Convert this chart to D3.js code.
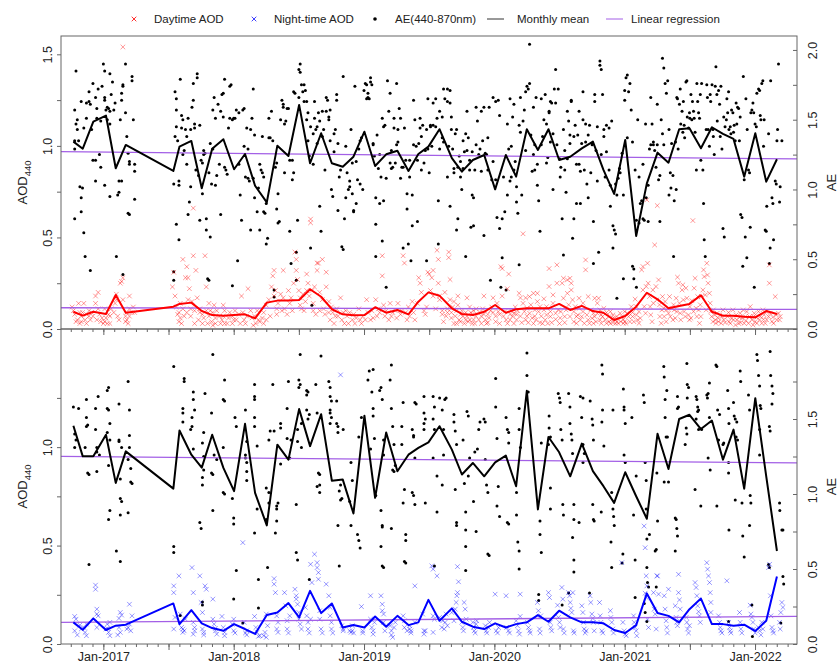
<!DOCTYPE html>
<html>
<head>
<meta charset="utf-8">
<script src="https://cdn.jsdelivr.net/npm/d3@7"></script>
<style>
  body { margin: 0; background: #fff; }
  text { font-family: "Liberation Sans", Arial, sans-serif; }
</style>
</head>
<body>
<svg id="chart"></svg>
<script>
var width = 840;
var height = 663;

// monthly mean dates (decimal year)
var monthT = [2016.770, 2016.842, 2016.923, 2017.020, 2017.095, 2017.172, 2017.537, 2017.584, 2017.675, 2017.755, 2017.835, 2017.921,
  2018.003, 2018.087, 2018.164, 2018.254, 2018.335, 2018.420, 2018.502, 2018.586, 2018.671, 2018.753, 2018.837, 2018.919,
  2019.003, 2019.085, 2019.170, 2019.256, 2019.341, 2019.417, 2019.494, 2019.579, 2019.674, 2019.751, 2019.835, 2019.922,
  2020.006, 2020.088, 2020.167, 2020.249, 2020.334, 2020.415, 2020.497, 2020.582, 2020.671, 2020.756, 2020.837, 2020.919,
  2021.004, 2021.088, 2021.170, 2021.252, 2021.336, 2021.418, 2021.497, 2021.585, 2021.669, 2021.754, 2021.835, 2021.917,
  2022.002, 2022.086, 2022.168];

var dayAeMean = [1.343, 1.292, 1.486, 1.53, 1.152, 1.319, 1.133, 1.307, 1.348, 1.009, 1.292, 1.360,
  1.145, 1.254, 1.027, 0.908, 1.314, 1.240, 1.606, 1.188, 1.403, 1.188, 1.163, 1.235,
  1.414, 1.168, 1.252, 1.278, 1.133, 1.254, 1.307, 1.432, 1.224, 1.128, 1.211, 1.247,
  1.001, 1.247, 1.092, 1.432, 1.283, 1.432, 1.211, 1.235, 1.295, 1.343, 1.140, 0.968,
  1.355, 0.667, 1.044, 1.264, 1.192, 1.432, 1.439, 1.295, 1.446, 1.398, 1.362, 1.092,
  1.403, 1.056, 1.217];

var dayAodMean = [0.094, 0.073, 0.094, 0.082, 0.186, 0.089, 0.122, 0.137, 0.144, 0.098, 0.076, 0.073,
  0.076, 0.080, 0.058, 0.144, 0.155, 0.155, 0.158, 0.217, 0.176, 0.108, 0.080, 0.075,
  0.076, 0.119, 0.089, 0.104, 0.080, 0.149, 0.200, 0.182, 0.113, 0.082, 0.076, 0.094,
  0.131, 0.089, 0.108, 0.113, 0.113, 0.113, 0.137, 0.104, 0.126, 0.098, 0.089, 0.049,
  0.071, 0.122, 0.198, 0.162, 0.113, 0.126, 0.137, 0.184, 0.094, 0.073, 0.073, 0.067,
  0.064, 0.098, 0.082];

var nightAeMean = [1.455, 1.251, 1.251, 1.395, 1.074, 1.284, 1.036, 1.423, 1.262, 1.176, 1.395, 1.174,
  1.019, 1.468, 1.007, 0.791, 1.329, 1.229, 1.566, 1.319, 1.532, 1.089, 1.096, 0.870,
  1.522, 0.975, 1.410, 1.152, 1.262, 1.307, 1.344, 1.452, 1.296, 1.130, 1.207, 1.118,
  1.211, 1.256, 1.052, 1.688, 0.897, 1.380, 1.278, 1.118, 1.336, 1.152, 1.052, 0.941,
  1.145, 0.985, 0.835, 1.402, 1.167, 1.500, 1.528, 1.433, 1.490, 1.229, 1.429, 1.035,
  1.639, 1.118, 0.620];

var nightAodMean = [0.110, 0.072, 0.130, 0.071, 0.093, 0.098, 0.206, 0.101, 0.172, 0.105, 0.081, 0.067,
  0.101, 0.076, 0.051, 0.147, 0.160, 0.208, 0.135, 0.270, 0.157, 0.206, 0.084, 0.096,
  0.084, 0.140, 0.088, 0.143, 0.096, 0.110, 0.224, 0.118, 0.181, 0.113, 0.088, 0.076,
  0.105, 0.084, 0.101, 0.110, 0.147, 0.113, 0.169, 0.135, 0.110, 0.110, 0.105, 0.071,
  0.056, 0.096, 0.257, 0.157, 0.143, 0.110, 0.177, 0.231, 0.101, 0.101, 0.093, 0.098,
  0.066, 0.118, 0.343];

// linear regression, value at left and right edge of the plot
var dayAodReg = [0.116, 0.107];
var dayAeReg = [1.271, 1.219];
var nightAodReg = [0.110, 0.140];
var nightAeReg = [1.251, 1.207];

// daytime AE (440-870nm) observations [decimal year, AE]
var dayAe = [
  [2016.78,1.57],[2016.79,1.85],[2016.78,1.35],[2016.80,1.50],[2016.78,1.29],[2016.78,0.79],[2016.81,1.35],[2016.79,1.47],[2016.80,1.43],[2016.82,1.02],[2016.83,0.94],[2016.83,0.84],[2016.85,0.69],[2016.86,0.52],[2016.84,1.01],[2016.85,1.44],[2016.83,1.63],
  [2016.87,1.51],[2016.87,1.62],[2016.89,1.70],[2016.89,1.63],[2016.90,1.61],[2016.90,0.42],[2016.91,1.43],[2016.92,1.76],[2016.92,1.21],[2016.94,1.06],[2016.94,1.21],[2016.95,1.51],[2016.94,1.66],[2016.95,1.58],[2016.96,1.72],[2016.97,1.25],[2016.98,1.16],[2016.98,1.49],
  [2016.99,1.74],[2017.00,1.90],[2017.01,1.85],[2017.01,1.66],[2017.01,1.64],[2017.02,1.57],[2017.03,1.50],[2017.03,1.59],[2017.04,1.58],[2017.05,1.56],[2017.05,1.83],[2017.05,1.47],[2017.06,1.68],[2017.07,1.77],[2017.08,1.57],[2017.09,1.62],[2017.05,0.95],[2017.01,1.03],
  [2017.10,0.52],[2017.11,0.96],[2017.12,0.98],[2017.12,1.06],[2017.13,1.50],[2017.14,1.64],[2017.14,1.69],[2017.15,1.75],[2017.15,1.74],[2017.14,1.06],[2017.15,0.39],[2017.17,1.90],[2017.17,1.55],[2017.18,1.38],[2017.19,1.26],[2017.19,0.83],[2017.20,0.82],[2017.20,1.20],[2017.20,1.18],[2017.22,1.78],[2017.22,1.81],[2017.23,1.50],[2017.24,1.18],[2017.24,1.13],[2017.24,0.93],
  [2017.54,0.41],[2017.54,0.35],[2017.55,1.70],[2017.56,1.65],[2017.56,1.57],[2017.55,1.38],[2017.54,1.04],[2017.56,1.45],[2017.57,1.35],[2017.56,0.75],[2017.58,0.64],[2017.58,1.03],[2017.58,1.06],[2017.59,1.79],[2017.60,1.53],[2017.60,1.44],[2017.61,1.50],[2017.61,1.25],[2017.62,1.28],[2017.63,1.43],[2017.64,1.18],[2017.64,1.38],[2017.65,1.51],[2017.65,0.82],[2017.66,0.91],[2017.67,1.02],[2017.67,1.43],[2017.68,1.59],[2017.69,1.76],[2017.69,1.64],[2017.70,1.47],[2017.70,1.44],
  [2017.71,1.14],[2017.72,1.83],[2017.72,1.80],[2017.73,1.10],[2017.74,1.46],[2017.74,0.78],[2017.75,1.21],[2017.76,1.19],[2017.76,0.97],[2017.77,1.25],[2017.77,1.28],[2017.78,1.26],[2017.79,0.79],[2017.79,0.71],[2017.80,0.36],[2017.81,0.35],[2017.81,1.12],[2017.82,1.33],[2017.82,0.66],[2017.83,1.04],[2017.84,1.29],[2017.84,1.57],[2017.85,1.66],[2017.86,1.51],[2017.86,1.03],[2017.87,1.10],
  [2017.88,1.61],[2017.89,1.18],[2017.90,0.82],[2017.90,1.56],[2017.91,1.68],[2017.92,1.52],[2017.92,1.69],[2017.93,1.16],[2017.93,1.79],[2017.94,1.14],[2017.95,1.11],[2017.96,1.44],[2017.97,1.51],[2017.97,1.74],[2017.98,1.75],[2017.99,1.50],[2017.99,0.31],[2018.00,1.51],[2018.01,1.51],[2018.02,1.57],[2018.03,0.49],[2018.04,1.18],[2018.04,1.55],[2018.05,0.96],[2018.06,0.78],
  [2018.07,1.57],[2018.08,1.31],[2018.08,1.58],[2018.09,1.09],[2018.10,1.44],[2018.11,1.29],[2018.11,1.08],[2018.12,1.06],[2018.13,1.43],[2018.13,0.71],[2018.14,1.51],[2018.15,1.08],[2018.15,1.72],[2018.16,0.94],[2018.16,1.39],[2018.18,0.84],[2018.19,1.01],[2018.20,0.71],[2018.20,1.18],[2018.21,1.14],[2018.22,1.38],[2018.22,1.12],[2018.23,1.09],[2018.23,0.84],[2018.24,0.83],[2018.25,0.61],[2018.25,0.90],[2018.26,0.65],[2018.27,1.51],[2018.27,1.37],
  [2018.28,1.37],[2018.29,1.56],[2018.30,1.35],[2018.31,0.23],[2018.31,0.28],[2018.32,1.16],[2018.33,1.19],[2018.33,0.86],[2018.34,0.97],[2018.34,0.76],[2018.35,0.77],[2018.36,1.50],[2018.37,1.64],[2018.38,1.61],[2018.38,1.59],[2018.39,1.47],[2018.39,1.12],[2018.40,1.49],[2018.41,1.58],[2018.42,1.58],[2018.43,1.21],[2018.43,0.70],[2018.44,0.47],[2018.45,1.07],[2018.45,1.21],[2018.46,1.12],[2018.46,1.70],[2018.47,1.69],[2018.48,0.55],[2018.48,0.35],[2018.49,0.78],[2018.50,1.66],[2018.50,1.86],[2018.51,1.90],[2018.51,1.84],
  [2018.52,1.75],[2018.53,1.70],[2018.54,1.63],[2018.54,1.75],[2018.55,1.71],[2018.56,1.50],[2018.56,1.63],[2018.57,1.55],[2018.57,1.35],[2018.58,1.24],[2018.59,1.45],[2018.59,0.58],[2018.60,0.17],[2018.61,1.18],[2018.61,1.40],[2018.62,1.51],[2018.62,1.63],[2018.63,1.43],[2018.64,1.45],[2018.64,1.33],[2018.65,1.55],[2018.66,0.88],[2018.66,1.49],[2018.67,0.70],[2018.68,1.38],[2018.68,1.56],[2018.69,1.43],[2018.70,1.14],[2018.71,1.66],[2018.71,1.56],
  [2018.72,1.64],[2018.73,1.52],[2018.73,1.50],[2018.74,1.57],[2018.74,1.35],[2018.75,1.00],[2018.76,0.95],[2018.77,1.40],[2018.77,1.27],[2018.78,1.43],[2018.79,1.68],[2018.79,1.64],[2018.80,0.85],[2018.80,1.33],[2018.81,1.09],[2018.82,1.14],[2018.83,0.59],[2018.84,1.81],[2018.84,0.57],[2018.85,0.79],[2018.86,0.94],[2018.86,1.31],[2018.87,1.12],[2018.88,1.00],[2018.89,1.06],[2018.89,1.02],[2018.90,1.43],[2018.91,0.97],[2018.91,1.19],[2018.92,0.85],[2018.92,0.84],[2018.93,1.74],[2018.94,0.90],[2018.94,1.20],[2018.95,1.07],
  [2018.96,1.29],[2018.97,1.35],[2018.97,1.04],[2018.98,1.37],[2018.99,1.00],[2019.00,1.71],[2019.01,1.76],[2019.02,1.65],[2019.02,1.75],[2019.03,1.66],[2019.03,1.69],[2019.04,1.65],[2019.05,1.80],[2019.05,1.77],[2019.06,1.75],[2019.07,1.33],[2019.07,1.32],[2019.08,1.24],[2019.09,0.75],[2019.09,0.52],[2019.09,0.94],[2019.10,1.39],[2019.11,1.15],[2019.12,1.25],[2019.12,0.90],[2019.13,1.09],[2019.14,1.51],[2019.14,0.63],[2019.15,1.45],[2019.15,0.92],[2019.16,1.46],[2019.17,1.08],[2019.17,0.30],
  [2019.18,1.78],[2019.19,1.56],[2019.20,1.19],[2019.20,1.69],[2019.21,1.15],[2019.21,1.28],[2019.22,1.16],[2019.23,1.44],[2019.23,1.51],[2019.24,1.19],[2019.25,1.76],[2019.25,1.32],[2019.26,1.34],[2019.26,1.43],[2019.27,1.58],[2019.28,1.08],[2019.28,1.51],[2019.29,1.16],[2019.30,1.16],[2019.30,0.58],[2019.31,1.44],[2019.32,1.21],[2019.33,0.86],[2019.33,0.97],[2019.34,0.61],[2019.35,1.09],[2019.35,1.21],[2019.36,0.49],[2019.37,0.96],[2019.37,0.74],
  [2019.38,1.64],[2019.38,1.32],[2019.39,1.50],[2019.40,1.31],[2019.41,0.77],[2019.41,1.21],[2019.42,1.33],[2019.43,1.44],[2019.43,1.51],[2019.44,1.38],[2019.44,1.14],[2019.45,1.46],[2019.46,1.19],[2019.47,1.28],[2019.48,1.43],[2019.48,0.49],[2019.49,1.29],[2019.49,1.65],[2019.50,1.12],[2019.51,1.46],[2019.51,1.45],[2019.52,1.31],[2019.53,1.46],[2019.53,1.62],[2019.55,1.45],[2019.55,1.65],[2019.56,1.51],[2019.57,0.92],[2019.57,0.61],[2019.58,1.29],
  [2019.58,1.56],[2019.60,1.52],[2019.60,1.37],[2019.61,1.72],[2019.61,1.34],[2019.62,1.65],[2019.64,1.72],[2019.64,1.63],[2019.65,1.31],[2019.66,1.71],[2019.66,1.62],[2019.67,1.52],[2019.67,1.43],[2019.68,1.29],[2019.69,1.12],[2019.69,1.15],[2019.70,1.40],[2019.71,0.71],[2019.71,1.43],[2019.72,0.79],[2019.72,1.16],[2019.73,1.24],[2019.74,1.20],[2019.74,1.09],[2019.75,1.00],[2019.76,1.15],[2019.66,0.88],[2019.64,1.09],
  [2019.76,1.35],[2019.77,1.27],[2019.78,1.40],[2019.78,0.52],[2019.79,1.56],[2019.79,1.28],[2019.80,1.37],[2019.81,1.21],[2019.81,1.14],[2019.82,0.73],[2019.83,1.27],[2019.83,0.96],[2019.84,0.74],[2019.84,0.94],[2019.85,1.14],[2019.86,1.32],[2019.86,1.59],[2019.87,1.49],[2019.88,1.25],[2019.89,1.29],[2019.90,1.13],[2019.90,1.56],[2019.91,1.35],[2019.92,1.59],[2019.92,0.67],[2019.93,1.26],[2019.94,1.25],
  [2019.95,1.37],[2019.95,1.14],[2019.96,1.59],[2019.97,0.35],[2019.98,1.07],[2019.99,1.66],[2019.99,1.20],[2020.01,1.63],[2020.01,1.07],[2020.02,0.80],[2020.03,1.64],[2020.04,0.72],[2020.04,1.53],[2020.05,0.30],[2020.06,0.51],[2020.06,0.79],[2020.07,1.09],[2020.08,0.84],[2020.09,0.28],[2020.10,0.96],[2020.10,1.47],[2020.11,1.29],[2020.12,1.06],[2020.12,1.65],[2020.13,1.31],[2020.13,1.09],[2020.14,1.52],[2020.15,1.61],
  [2020.15,1.14],[2020.16,1.20],[2020.17,1.02],[2020.17,0.91],[2020.18,0.83],[2020.19,0.46],[2020.19,1.46],[2020.20,1.66],[2020.20,1.41],[2020.21,0.96],[2020.22,1.49],[2020.23,1.57],[2020.24,1.28],[2020.24,1.70],[2020.25,1.74],[2020.26,1.72],[2020.27,2.04],[2020.27,1.76],[2020.28,1.39],[2020.29,1.13],[2020.30,1.59],[2020.30,1.25],[2020.31,1.32],[2020.31,1.14],[2020.32,1.66],[2020.33,1.03],[2020.33,1.18],[2020.34,0.92],[2020.35,0.70],
  [2020.36,1.65],[2020.36,1.32],[2020.37,1.38],[2020.38,1.50],[2020.39,1.68],[2020.40,1.19],[2020.40,1.47],[2020.41,1.23],[2020.42,1.56],[2020.42,1.55],[2020.43,1.63],[2020.43,1.34],[2020.44,1.62],[2020.45,1.40],[2020.45,1.00],[2020.46,1.72],[2020.47,1.62],[2020.47,1.86],[2020.48,1.32],[2020.49,1.72],[2020.50,1.22],[2020.505,1.09],[2020.51,1.16],[2020.52,0.79],[2020.53,0.53],[2020.53,1.43],[2020.54,1.28],[2020.54,1.14],[2020.55,0.98],[2020.56,1.22],
  [2020.56,1.56],[2020.57,1.49],[2020.58,1.39],[2020.58,1.33],[2020.59,1.64],[2020.59,1.63],[2020.60,0.65],[2020.61,0.79],[2020.61,1.38],[2020.62,1.46],[2020.63,0.90],[2020.63,1.18],[2020.64,1.39],[2020.65,1.56],[2020.65,1.18],[2020.66,1.13],[2020.66,0.90],[2020.67,1.33],[2020.68,1.70],[2020.68,1.50],[2020.69,1.14],[2020.70,1.34],[2020.70,1.47],[2020.71,1.04],[2020.72,0.94],[2020.72,1.39],[2020.73,1.46],[2020.74,1.12],[2020.75,1.32],[2020.76,0.77],[2020.76,0.47],
  [2020.77,1.63],[2020.77,1.68],[2020.78,1.28],[2020.79,1.06],[2020.79,1.45],[2020.80,0.55],[2020.81,1.89],[2020.81,1.92],[2020.82,1.25],[2020.82,1.86],[2020.83,1.68],[2020.84,1.38],[2020.84,1.43],[2020.85,1.09],[2020.86,1.46],[2020.86,1.27],[2020.88,1.14],[2020.88,1.44],[2020.89,0.88],[2020.89,1.03],[2020.90,1.49],[2020.91,0.74],[2020.91,0.58],[2020.92,0.71],[2020.93,0.68],[2020.93,1.04],[2020.94,0.22],[2020.94,0.96],[2020.95,1.08],[2020.96,1.15],[2020.965,1.12],
  [2020.98,1.26],[2020.99,0.36],[2020.99,0.96],[2021.00,1.64],[2021.00,1.71],[2021.01,1.80],[2021.02,1.82],[2021.02,1.37],[2021.03,1.70],[2021.04,1.76],[2021.05,1.57],[2021.06,1.34],[2021.06,0.45],[2021.07,0.43],[2021.07,0.36],[2021.08,1.14],[2021.09,0.78],[2021.09,0.30],[2021.10,1.50],[2021.11,1.09],[2021.11,0.76],[2021.12,0.90],[2021.13,0.92],[2021.14,0.79],[2021.14,1.18],[2021.15,0.78],[2021.16,1.47],[2021.165,0.94],
  [2021.18,1.03],[2021.18,0.77],[2021.19,1.29],[2021.20,1.32],[2021.20,1.66],[2021.21,1.47],[2021.22,1.32],[2021.22,1.34],[2021.23,1.28],[2021.24,1.16],[2021.25,1.61],[2021.25,1.32],[2021.26,1.07],[2021.27,0.77],[2021.27,1.10],[2021.28,1.50],[2021.29,1.40],[2021.29,1.94],[2021.30,1.87],[2021.30,1.32],[2021.31,1.76],[2021.32,1.69],[2021.33,1.78],[2021.34,1.43],[2021.34,0.96],[2021.35,1.12],[2021.355,1.01],[2021.36,1.33],[2021.37,1.10],[2021.375,0.52],
  [2021.38,0.92],[2021.39,1.34],[2021.395,1.00],[2021.40,1.66],[2021.405,1.65],[2021.41,1.29],[2021.42,1.61],[2021.426,1.72],[2021.43,1.47],[2021.44,1.56],[2021.446,1.41],[2021.45,1.63],[2021.456,1.46],[2021.46,1.37],[2021.47,1.77],[2021.477,1.78],[2021.48,1.52],[2021.49,1.44],[2021.497,1.55],[2021.50,1.51],[2021.508,1.68],[2021.515,1.50],[2021.52,1.63],[2021.528,1.56],[2021.533,1.51],[2021.54,1.41],[2021.55,1.14],[2021.554,1.76],[2021.56,1.63],[2021.567,1.55],[2021.574,1.51],[2021.58,1.68],
  [2021.584,1.21],[2021.59,1.76],[2021.60,1.14],[2021.605,0.90],[2021.61,0.64],[2021.618,0.52],[2021.625,1.43],[2021.63,1.75],[2021.635,1.66],[2021.64,1.43],[2021.65,1.31],[2021.656,1.68],[2021.66,1.63],[2021.67,1.75],[2021.677,1.43],[2021.68,1.38],[2021.687,1.25],[2021.695,1.74],[2021.70,1.88],[2021.707,1.68],[2021.71,1.49],[2021.72,1.71],[2021.728,1.61],[2021.733,1.38],[2021.738,1.74],[2021.746,1.29],[2021.754,0.72],[2021.76,1.52],[2021.764,0.66],[2021.77,1.45],[2021.78,1.50],[2021.784,1.65],
  [2021.79,1.55],[2021.797,1.70],[2021.80,1.43],[2021.81,1.45],[2021.815,1.40],[2021.82,1.57],[2021.83,1.55],[2021.835,1.41],[2021.84,1.46],[2021.848,1.35],[2021.855,1.62],[2021.86,1.47],[2021.866,1.59],[2021.874,1.58],[2021.88,1.35],[2021.886,1.52],[2021.89,0.82],[2021.90,0.80],[2021.906,0.45],[2021.91,1.81],[2021.917,1.07],[2021.925,0.66],[2021.93,1.65],[2021.937,0.51],[2021.94,1.43],[2021.95,1.14],[2021.958,1.12],[2021.963,0.73],[2021.968,1.55],[2021.976,1.57],[2021.984,1.62],[2021.99,1.55],
  [2021.994,0.30],[2022.00,1.47],[2022.01,1.45],[2022.014,1.69],[2022.027,1.72],[2022.035,1.71],[2022.04,1.53],[2022.045,1.50],[2022.052,1.76],[2022.06,1.78],[2022.065,1.31],[2022.07,1.50],[2022.078,0.71],[2022.086,0.70],[2022.09,0.88],[2022.104,1.40],[2022.11,0.47],[2022.116,0.58],[2022.12,1.78],[2022.13,0.94],[2022.137,0.90],[2022.142,0.64],[2022.155,1.06],[2022.163,1.04],[2022.168,1.35],[2022.173,1.43],[2022.18,1.90],[2022.188,0.91],[2022.193,1.02],[2022.206,1.35]
];

// daytime AOD440 observations [decimal year, AOD]
var dayAod = [
  [2016.76,0.12],[2016.77,0.10],[2016.78,0.08],[2016.80,0.05],[2016.81,0.14],[2016.82,0.09],[2016.83,0.07],[2016.83,0.04],[2016.84,0.09],[2016.85,0.14],[2016.86,0.05],[2016.87,0.08],[2016.87,0.03],[2016.79,0.04],[2016.82,0.03],
  [2016.89,0.07],[2016.89,0.10],[2016.90,0.05],[2016.91,0.09],[2016.92,0.07],[2016.94,0.14],[2016.94,0.18],[2016.96,0.11],[2016.96,0.20],[2016.97,0.08],[2016.98,0.04],[2016.99,0.06],[2017.00,0.03],[2016.95,0.05],
  [2017.01,0.11],[2017.01,0.04],[2017.02,0.06],[2017.03,0.03],[2017.04,0.08],[2017.05,0.03],[2017.05,0.07],[2017.06,0.11],[2017.08,0.09],[2017.09,0.14],[2017.10,0.16],[2017.11,0.07],[2017.12,0.05],[2017.10,0.19],
  [2017.13,0.25],[2017.14,0.26],[2017.15,0.28],[2017.15,1.54],[2017.15,0.16],[2017.17,0.04],[2017.17,0.07],[2017.18,0.09],[2017.19,0.03],[2017.20,0.18],[2017.20,0.07],[2017.20,0.11],[2017.22,0.09],[2017.23,0.12],[2017.24,0.09],[2017.18,0.05],
  [2017.53,0.23],[2017.54,0.31],[2017.55,0.18],[2017.56,0.12],[2017.57,0.08],[2017.58,0.04],[2017.58,0.09],[2017.59,0.14],[2017.59,0.06],[2017.60,0.03],[2017.61,0.11],[2017.61,0.38],[2017.62,0.07],[2017.63,0.28],[2017.64,0.34],[2017.64,0.09],[2017.65,0.16],[2017.65,0.28],[2017.66,0.22],[2017.67,0.11],[2017.67,0.07],[2017.68,0.15],[2017.69,0.66],[2017.69,0.40],[2017.70,0.03],[2017.70,0.10],[2017.71,0.32],
  [2017.72,0.17],[2017.73,0.05],[2017.74,0.09],[2017.74,0.11],[2017.76,0.03],[2017.76,0.08],[2017.77,0.06],[2017.78,0.40],[2017.79,0.23],[2017.79,0.10],[2017.80,0.03],[2017.81,0.14],[2017.81,0.07],[2017.82,0.10],[2017.83,0.04],[2017.84,0.09],[2017.84,0.02],[2017.85,0.13],[2017.86,0.06],[2017.86,0.03],[2017.87,0.10],
  [2017.89,0.07],[2017.90,0.03],[2017.91,0.05],[2017.92,0.13],[2017.92,0.07],[2017.93,0.03],[2017.93,0.10],[2017.95,0.03],[2017.96,0.06],[2017.97,0.09],[2017.99,0.03],[2017.99,0.07],[2018.00,0.05],[2018.01,0.10],[2018.02,0.05],[2018.04,0.08],[2018.05,0.03],
  [2018.06,0.18],[2018.07,0.09],[2018.08,0.05],[2018.09,0.03],[2018.10,0.07],[2018.11,0.22],[2018.13,0.10],[2018.14,0.06],[2018.15,0.02],[2018.16,0.07],[2018.17,0.03],[2018.18,0.10],[2018.19,0.05],[2018.20,0.04],[2018.22,0.06],[2018.23,0.03],[2018.23,0.09],[2018.25,0.13],[2018.25,0.05],
  [2018.27,0.16],[2018.28,0.07],[2018.29,0.23],[2018.30,0.29],[2018.31,0.18],[2018.31,0.32],[2018.32,0.21],[2018.33,0.08],[2018.33,0.11],[2018.34,0.14],[2018.36,0.19],[2018.37,0.10],[2018.38,0.17],[2018.38,0.32],[2018.39,0.11],[2018.41,0.08],[2018.42,0.21],[2018.43,0.14],[2018.44,0.17],[2018.45,0.10],[2018.46,0.25],
  [2018.47,0.42],[2018.48,0.38],[2018.48,0.32],[2018.49,0.27],[2018.50,0.21],[2018.51,0.17],[2018.51,0.13],[2018.52,0.11],[2018.53,0.19],[2018.54,0.10],[2018.55,0.15],[2018.56,0.21],[2018.56,0.30],[2018.57,0.25],[2018.58,0.18],[2018.59,0.60],[2018.59,0.58],[2018.60,0.21],[2018.61,0.14],[2018.61,0.10],[2018.62,0.23],[2018.63,0.08],[2018.64,0.36],[2018.64,0.32],[2018.65,0.36],[2018.66,0.10],[2018.66,0.20],
  [2018.68,0.38],[2018.68,0.16],[2018.69,0.11],[2018.70,0.08],[2018.71,0.31],[2018.71,0.23],[2018.73,0.15],[2018.73,0.09],[2018.74,0.05],[2018.75,0.12],[2018.76,0.09],[2018.77,0.03],[2018.78,0.07],[2018.79,0.11],[2018.80,0.07],[2018.82,0.17],[2018.83,0.05],[2018.84,0.09],[2018.85,0.03],[2018.86,0.10],
  [2018.87,0.07],[2018.88,0.03],[2018.89,0.09],[2018.91,0.05],[2018.92,0.08],[2018.93,0.03],[2018.94,0.06],[2018.96,0.11],[2018.97,0.05],[2018.98,0.03],[2018.99,0.07],[2019.01,0.05],[2019.02,0.16],[2019.03,0.09],[2019.05,0.05],[2019.06,0.10],[2019.07,0.06],
  [2019.09,0.16],[2019.10,0.07],[2019.11,0.11],[2019.12,0.09],[2019.14,0.29],[2019.14,0.40],[2019.15,0.13],[2019.16,0.07],[2019.17,0.10],[2019.19,0.05],[2019.20,0.14],[2019.21,0.07],[2019.22,0.09],[2019.24,0.10],[2019.25,0.06],[2019.26,0.14],[2019.28,0.08],
  [2019.29,0.10],[2019.30,0.40],[2019.31,0.36],[2019.32,0.09],[2019.33,0.05],[2019.34,0.12],[2019.35,0.07],[2019.37,0.15],[2019.38,0.09],[2019.39,0.05],[2019.41,0.14],[2019.42,0.28],[2019.43,0.25],[2019.44,0.20],[2019.46,0.10],[2019.47,0.08],[2019.48,0.12],[2019.49,0.31],[2019.50,0.30],[2019.51,0.21],[2019.52,0.28],[2019.53,0.32],[2019.53,0.18],[2019.55,0.11],[2019.56,0.43],[2019.57,0.38],[2019.57,0.25],[2019.58,0.16],
  [2019.58,0.18],[2019.60,0.10],[2019.60,0.08],[2019.61,0.04],[2019.62,0.20],[2019.63,0.07],[2019.64,0.11],[2019.64,0.09],[2019.65,0.42],[2019.65,0.39],[2019.66,0.27],[2019.66,0.16],[2019.67,0.06],[2019.67,0.09],[2019.68,0.12],[2019.69,0.03],[2019.69,0.15],[2019.70,0.07],[2019.71,0.03],[2019.71,0.10],[2019.72,0.18],[2019.72,0.13],[2019.73,0.05],[2019.74,0.08],[2019.74,0.04],[2019.75,0.10],[2019.76,0.07],
  [2019.77,0.03],[2019.78,0.09],[2019.78,0.05],[2019.79,0.17],[2019.79,0.07],[2019.80,0.04],[2019.81,0.12],[2019.81,0.05],[2019.82,0.09],[2019.83,0.03],[2019.83,0.08],[2019.84,0.10],[2019.84,0.05],[2019.85,0.03],[2019.86,0.07],[2019.86,0.11],[2019.88,0.05],[2019.89,0.09],[2019.90,0.03],[2019.90,0.07],[2019.91,0.11],[2019.92,0.18],[2019.92,0.08],[2019.93,0.05],[2019.94,0.03],
  [2019.95,0.035],[2019.95,0.08],[2019.96,0.06],[2019.97,0.10],[2019.98,0.12],[2019.99,0.17],[2019.99,0.09],[2020.01,0.04],[2020.01,0.07],[2020.02,0.14],[2020.03,0.095],[2020.04,0.03],[2020.04,0.08],[2020.05,0.34],[2020.06,0.33],[2020.06,0.18],[2020.07,0.07],[2020.08,0.095],[2020.09,0.05],[2020.10,0.03],[2020.10,0.22],[2020.11,0.30],[2020.12,0.08],[2020.12,0.05],[2020.13,0.10],[2020.14,0.07],[2020.15,0.03],
  [2020.15,0.086],[2020.16,0.12],[2020.17,0.05],[2020.17,0.08],[2020.18,0.10],[2020.19,0.195],[2020.20,0.17],[2020.20,0.07],[2020.21,0.035],[2020.22,0.52],[2020.22,0.14],[2020.23,0.095],[2020.24,0.05],[2020.24,0.17],[2020.25,0.07],[2020.25,0.113],[2020.26,0.035],[2020.27,0.086],[2020.27,0.177],[2020.28,0.132],[2020.29,0.06],[2020.30,0.03],[2020.30,0.195],[2020.31,0.104],[2020.31,0.07],[2020.32,0.05],[2020.33,0.15],[2020.33,0.195],[2020.34,0.095],[2020.35,0.035],
  [2020.35,0.122],[2020.36,0.07],[2020.37,0.03],[2020.38,0.165],[2020.38,0.104],[2020.39,0.05],[2020.40,0.077],[2020.40,0.122],[2020.41,0.03],[2020.42,0.33],[2020.42,0.232],[2020.43,0.095],[2020.43,0.068],[2020.44,0.035],[2020.45,0.186],[2020.45,0.14],[2020.47,0.086],[2020.47,0.053],[2020.48,0.35],[2020.48,0.25],[2020.49,0.104],[2020.50,0.03],[2020.505,0.06],[2020.51,0.095],[2020.52,0.25],[2020.53,0.277],[2020.53,0.168],[2020.54,0.068],[2020.54,0.035],[2020.55,0.104],[2020.56,0.268],
  [2020.56,0.195],[2020.57,0.132],[2020.58,0.068],[2020.58,0.277],[2020.59,0.213],[2020.59,0.25],[2020.60,0.159],[2020.61,0.095],[2020.61,0.04],[2020.62,0.122],[2020.63,0.068],[2020.63,0.031],[2020.64,0.077],[2020.65,0.168],[2020.65,0.113],[2020.66,0.05],[2020.67,0.068],[2020.68,0.141],[2020.68,0.095],[2020.69,0.031],[2020.70,0.377],[2020.70,0.323],[2020.71,0.077],[2020.72,0.177],[2020.72,0.05],[2020.73,0.031],[2020.74,0.104],[2020.75,0.059],[2020.76,0.086],[2020.76,0.031],
  [2020.77,0.168],[2020.77,0.068],[2020.78,0.04],[2020.79,0.141],[2020.79,0.086],[2020.80,0.168],[2020.81,0.05],[2020.81,0.104],[2020.82,0.077],[2020.82,0.031],[2020.83,0.068],[2020.84,0.113],[2020.85,0.05],[2020.86,0.09],[2020.86,0.031],[2020.88,0.068],[2020.88,0.04],[2020.89,0.095],[2020.89,0.031],[2020.90,0.053],[2020.91,0.077],[2020.91,0.035],[2020.92,0.059],[2020.93,0.031],[2020.94,0.068],[2020.94,0.04],[2020.95,0.031],[2020.965,0.086],
  [2020.97,0.04],[2020.98,0.068],[2020.99,0.031],[2020.99,0.053],[2021.00,0.095],[2021.00,0.04],[2021.01,0.031],[2021.02,0.086],[2021.03,0.068],[2021.04,0.04],[2021.05,0.122],[2021.06,0.068],[2021.06,0.09],[2021.07,0.04],[2021.08,0.163],[2021.09,0.122],[2021.09,0.077],[2021.10,0.05],[2021.11,0.031],[2021.11,0.095],[2021.12,0.059],[2021.13,0.323],[2021.14,0.341],[2021.14,0.213],[2021.15,0.122],[2021.16,0.086],[2021.165,0.232],[2021.17,0.705],
  [2021.175,0.359],[2021.18,0.25],[2021.19,0.177],[2021.195,0.122],[2021.20,0.077],[2021.21,0.04],[2021.216,0.213],[2021.22,0.141],[2021.23,0.459],[2021.24,0.232],[2021.247,0.159],[2021.25,0.674],[2021.26,0.268],[2021.267,0.132],[2021.27,0.068],[2021.28,0.031],[2021.285,0.104],[2021.29,0.177],[2021.30,0.113],[2021.303,0.068],[2021.31,0.15],[2021.318,0.04],[2021.32,0.104],[2021.336,0.086],[2021.344,0.177],[2021.35,0.068],[2021.362,0.113],[2021.37,0.05],[2021.375,0.132],
  [2021.38,0.104],[2021.388,0.059],[2021.395,0.168],[2021.40,0.095],[2021.405,0.283],[2021.413,0.25],[2021.42,0.141],[2021.426,0.086],[2021.43,0.05],[2021.44,0.213],[2021.446,0.241],[2021.45,0.159],[2021.456,0.095],[2021.464,0.068],[2021.47,0.223],[2021.477,0.168],[2021.49,0.077],[2021.497,0.05],[2021.50,0.122],[2021.508,0.059],[2021.515,0.155],[2021.523,0.592],[2021.528,0.095],[2021.533,0.223],[2021.54,0.277],[2021.548,0.113],[2021.554,0.068],[2021.56,0.177],[2021.567,0.104],[2021.574,0.031],[2021.58,0.132],
  [2021.584,0.068],[2021.59,0.177],[2021.60,0.213],[2021.605,0.323],[2021.61,0.286],[2021.618,0.186],[2021.625,0.104],[2021.63,0.359],[2021.635,0.295],[2021.64,0.25],[2021.65,0.195],[2021.656,0.141],[2021.66,0.095],[2021.667,0.068],[2021.677,0.04],[2021.68,0.104],[2021.69,0.077],[2021.695,0.05],[2021.70,0.031],[2021.71,0.086],[2021.718,0.059],[2021.72,0.04],[2021.73,0.077],[2021.74,0.031],[2021.746,0.068],[2021.754,0.104],[2021.76,0.05],[2021.77,0.035],
  [2021.79,0.068],[2021.797,0.09],[2021.80,0.04],[2021.81,0.031],[2021.82,0.059],[2021.83,0.104],[2021.835,0.05],[2021.85,0.022],[2021.855,0.077],[2021.86,0.05],[2021.874,0.031],[2021.88,0.064],[2021.886,0.086],[2021.89,0.035],[2021.90,0.059],[2021.91,0.104],[2021.917,0.031],[2021.925,0.068],[2021.93,0.046],[2021.937,0.095],[2021.95,0.031],[2021.958,0.068],[2021.963,0.122],[2021.976,0.05],[2021.984,0.022],[2021.99,0.068],
  [2021.994,0.086],[2022.00,0.04],[2022.01,0.064],[2022.014,0.031],[2022.027,0.095],[2022.035,0.05],[2022.04,0.068],[2022.052,0.031],[2022.06,0.104],[2022.065,0.053],[2022.07,0.077],[2022.078,0.031],[2022.086,0.095],[2022.09,0.05],[2022.104,0.068],[2022.11,0.35],[2022.11,0.25],[2022.116,0.086],[2022.13,0.041],[2022.137,0.064],[2022.142,0.031],[2022.155,0.177],[2022.163,0.077],[2022.168,0.05],[2022.18,0.086],[2022.188,0.05],[2022.193,0.068]
];

// night-time AE observations [decimal year, AE]
var nightAe = [
  [2016.77,1.58],[2016.78,1.40],[2016.79,1.36],[2016.81,1.57],[2016.78,1.31],[2016.87,1.63],[2016.87,1.45],[2016.87,1.51],[2016.88,1.14],[2016.89,1.13],[2016.89,0.53],[2016.86,1.31],[2016.88,1.46],
  [2016.94,1.57],[2016.94,1.43],[2016.95,1.31],[2016.95,1.15],[2016.96,1.65],[2016.95,1.28],[2016.97,1.26],
  [2017.03,1.69],[2017.04,1.71],[2017.03,1.57],[2017.04,1.56],[2017.03,1.41],[2017.05,1.36],[2017.05,1.47],[2017.04,1.19],[2017.05,0.89],[2017.04,0.83],
  [2017.10,0.62],[2017.12,1.36],[2017.12,1.35],[2017.13,1.10],[2017.13,0.97],[2017.14,0.95],[2017.13,0.86],[2017.13,0.55],[2017.12,1.60],[2017.14,1.31],
  [2017.19,1.75],[2017.20,1.56],[2017.20,1.39],[2017.20,1.31],[2017.21,1.17],[2017.21,1.08],[2017.19,0.875],[2017.22,1.07],[2017.19,1.23],
  [2017.54,1.85],[2017.54,0.65],[2017.54,0.61],[2017.61,1.54],[2017.61,1.57],[2017.61,1.48],[2017.62,1.77],[2017.62,1.75],[2017.67,1.43],[2017.68,1.51],[2017.68,1.45],[2017.69,1.68],[2017.69,1.63],[2017.69,1.30],[2017.70,1.56],
  [2017.76,1.34],[2017.77,1.41],[2017.77,1.16],[2017.77,1.25],[2017.78,1.67],[2017.74,0.81],[2017.75,0.77],[2017.76,1.11],[2017.76,1.06],[2017.83,1.54],[2017.84,1.93],[2017.83,1.14],[2017.84,1.13],[2017.84,0.89],[2017.85,1.26],[2017.87,1.23],
  [2017.92,1.63],[2017.93,1.62],[2017.93,1.76],[2017.92,1.31],[2017.92,1.01],[2017.93,1.00],[2017.99,0.97],[2018.00,0.84],[2018.00,0.80],[2018.01,1.51],[2018.02,0.49],[2018.02,1.45],
  [2018.09,1.56],[2018.10,1.35],[2018.09,1.26],[2018.10,1.21],[2018.10,1.15],[2018.10,1.09],[2018.09,1.24],
  [2018.16,1.73],[2018.16,1.65],[2018.16,1.63],[2018.16,1.51],[2018.16,1.45],[2018.16,0.74],[2018.18,1.32],[2018.18,0.90],[2018.19,0.43],
  [2018.25,1.04],[2018.25,0.83],[2018.26,0.51],[2018.27,1.01],[2018.27,0.94],[2018.27,1.36],[2018.28,1.42],[2018.30,1.73],[2018.31,1.42],[2018.33,0.92],[2018.33,0.90],[2018.33,0.82],[2018.32,0.74],[2018.34,0.94],[2018.36,1.44],[2018.36,1.20],[2018.36,1.47],
  [2018.41,1.57],[2018.41,1.37],[2018.42,1.75],[2018.43,1.24],[2018.44,1.36],[2018.48,0.93],[2018.48,0.61],[2018.49,0.56],[2018.49,1.35],[2018.49,1.43],[2018.50,1.76],[2018.50,1.71],[2018.51,1.93],[2018.51,1.73],[2018.52,1.31],[2018.52,1.47],
  [2018.56,1.66],[2018.56,1.69],[2018.56,1.56],[2018.57,1.50],[2018.57,1.68],[2018.58,1.53],[2018.58,0.43],[2018.63,1.73],[2018.64,1.54],[2018.64,1.05],[2018.65,1.14],[2018.66,1.01],[2018.66,1.06],[2018.66,1.13],[2018.67,1.92],
  [2018.73,1.75],[2018.74,1.71],[2018.74,1.65],[2018.74,1.56],[2018.74,1.47],[2018.74,1.54],[2018.75,1.62],[2018.75,1.51],[2018.79,1.62],[2018.79,1.47],[2018.80,1.45],[2018.80,1.41],[2018.81,1.02],[2018.82,1.06],[2018.82,0.96],[2018.80,0.79],[2018.81,0.52],[2018.83,0.97],[2018.84,1.43],
  [2018.89,0.95],[2018.90,0.79],[2018.90,1.21],[2018.91,1.09],[2018.95,0.73],[2018.96,0.69],[2018.97,0.64],[2018.96,1.38],[2018.98,1.51],
  [2019.03,1.76],[2019.04,1.82],[2019.05,1.30],[2019.06,1.68],[2019.07,1.83],[2019.07,1.57],[2019.07,1.52],[2019.09,0.99],[2019.08,1.37],
  [2019.13,0.65],[2019.13,0.89],[2019.14,0.78],[2019.14,0.79],[2019.14,0.52],[2019.15,0.51],[2019.13,1.71],[2019.12,1.69],[2019.14,1.63],[2019.15,1.26],[2019.15,1.36],
  [2019.20,1.76],[2019.21,0.77],[2019.21,1.57],[2019.22,1.45],[2019.23,1.33],[2019.23,1.15],[2019.22,1.16],[2019.24,1.19],[2019.21,1.86],
  [2019.30,1.61],[2019.31,1.03],[2019.32,0.73],[2019.32,0.69],[2019.32,0.54],[2019.31,0.55],[2019.30,0.94],[2019.29,1.45],[2019.29,1.33],
  [2019.37,1.43],[2019.38,1.38],[2019.38,1.39],[2019.37,1.01],[2019.38,0.99],[2019.39,1.61],[2019.40,1.60],[2019.39,0.93],[2019.39,1.24],
  [2019.46,1.65],[2019.46,1.54],[2019.47,1.50],[2019.47,0.94],[2019.46,1.47],[2019.46,1.43],
  [2019.53,1.65],[2019.53,1.50],[2019.54,1.58],[2019.54,1.43],[2019.53,1.24],[2019.56,1.12],[2019.56,0.88],[2019.54,0.52],
  [2017.76,0.28],[2017.76,0.26],[2017.59,0.19],[2018.07,0.14],[2018.19,0.24],[2018.00,0.30],
  [2019.58,1.64],[2019.60,1.56],[2019.61,1.43],[2019.62,1.63],[2019.63,1.64],[2019.61,1.26],[2019.60,1.06],
  [2019.69,1.53],[2019.69,1.48],[2019.70,1.42],[2019.71,1.33],[2019.70,1.03],[2019.71,0.81],[2019.71,0.79],
  [2019.76,1.36],[2019.77,1.07],[2019.78,0.88],[2019.78,0.76],[2019.78,0.65],[2019.78,0.49],[2019.79,1.55],[2019.80,1.52],[2019.81,1.24],[2019.80,1.12],
  [2019.84,0.95],[2019.85,1.28],[2019.86,0.75],[2019.87,1.30],[2019.88,1.43],[2019.89,1.48],
  [2019.92,1.50],[2019.93,1.48],[2019.93,1.23],[2019.94,1.06],[2019.95,1.01],[2019.96,0.59],[2019.95,0.60],
  [2020.01,1.77],[2020.01,1.58],[2020.02,1.37],[2020.03,1.05],[2020.02,0.92],[2020.04,0.85],
  [2020.09,1.51],[2020.10,1.43],[2020.11,1.41],[2020.11,1.34],[2020.10,0.81],[2020.11,0.80],
  [2020.17,1.01],[2020.17,0.86],[2020.18,0.68],[2020.19,0.62],[2020.19,0.50],[2020.19,1.57],[2020.19,1.43],[2020.20,1.31],
  [2020.25,1.94],[2020.25,1.79],[2020.26,1.68],
  [2020.34,0.33],[2020.35,0.82],[2020.35,0.73],[2020.36,0.61],[2020.34,0.29],[2020.36,1.34],
  [2020.42,1.44],[2020.42,1.52],[2020.43,1.38],[2020.43,1.04],[2020.43,0.90],[2020.415,1.33],
  [2020.49,1.67],[2020.50,1.64],[2020.505,1.61],[2020.51,1.43],[2020.52,1.36],[2020.525,0.93],[2020.53,0.86],[2020.52,0.26],
  [2020.57,1.67],[2020.58,1.58],[2020.58,1.47],[2020.59,1.40],[2020.595,1.36],[2020.60,1.27],[2020.61,0.93],[2020.61,0.83],[2020.60,0.71],[2020.61,0.56],[2020.61,0.48],[2020.57,0.34],
  [2020.66,1.65],[2020.67,1.51],[2020.68,1.64],[2020.68,1.33],[2020.69,1.27],[2020.68,1.21],[2020.65,0.81],
  [2020.73,0.34],[2020.735,1.62],[2020.75,1.50],[2020.755,1.46],[2020.76,1.36],[2020.755,0.93],[2020.76,0.83],[2020.766,0.82],
  [2020.82,0.88],[2020.825,1.48],[2020.83,1.56],[2020.84,1.32],[2020.825,1.86],[2020.83,1.80],
  [2020.90,1.01],[2020.91,0.90],[2020.915,0.85],[2020.92,0.79],[2020.91,1.56],[2020.895,0.68],[2020.90,0.51],
  [2020.99,1.70],[2020.995,1.58],[2020.995,1.56],[2021.004,1.47],[2020.995,1.26],[2021.004,1.21],[2020.986,0.60],[2020.98,0.54],
  [2021.055,1.51],[2021.068,0.86],[2021.08,0.56],[2021.088,1.12],[2021.08,0.31],
  [2021.144,1.66],[2021.15,1.61],[2021.157,1.21],[2021.165,1.09],[2021.165,0.90],[2021.17,0.70],[2021.17,0.51],[2021.175,0.41],[2021.183,0.38],[2021.19,0.73],[2021.15,0.27],[2021.157,0.21],[2021.17,0.15],
  [2021.234,0.62],[2021.242,0.63],[2021.247,1.14],[2021.252,0.82],[2021.242,0.38],
  [2021.30,1.85],[2021.303,1.78],[2021.31,1.63],[2021.31,1.51],[2021.318,1.38],[2021.323,1.69],[2021.328,1.38],[2021.336,1.08],[2021.303,1.08],
  [2021.388,0.84],[2021.395,0.83],[2021.40,0.77],[2021.405,0.72],[2021.388,0.62],[2021.405,1.65],[2021.405,1.57],[2021.413,1.58],
  [2021.477,1.87],[2021.48,1.73],[2021.49,1.71],[2021.48,1.64],[2021.472,1.44],[2021.477,1.40],[2021.464,1.33],
  [2021.548,1.65],[2021.554,1.63],[2021.56,1.58],[2021.567,1.56],[2021.56,1.55],[2021.548,1.50],[2021.567,1.43],[2021.54,1.03],[2021.584,0.92],
  [2021.59,1.43],[2021.63,1.66],[2021.635,1.64],[2021.64,1.67],[2021.65,1.74],[2021.65,1.51],[2021.64,1.24],[2021.656,1.16],
  [2021.70,1.86],[2021.707,1.85],[2021.713,1.56],[2021.728,1.53],[2021.72,1.36],[2021.707,0.92],
  [2021.754,1.33],[2021.76,1.34],
  [2021.79,1.69],[2021.797,1.57],[2021.80,1.47],[2021.797,1.21],[2021.797,1.14],[2021.80,0.76],[2021.797,0.15],
  [2021.835,1.61],[2021.84,1.52],[2021.848,1.50],[2021.86,1.48],[2021.855,1.38],[2021.866,1.36],[2021.848,0.96],
  [2021.886,1.82],[2021.89,1.75],[2021.90,0.94],[2021.906,0.72],[2021.917,0.58],
  [2021.95,1.66],[2021.958,1.56],[2021.963,0.99],[2021.968,0.94],[2021.958,0.79],[2021.976,0.26],[2021.98,0.05],
  [2022.014,1.93],[2022.019,1.89],[2022.027,1.79],[2022.035,1.72],[2022.04,1.59],[2022.045,1.57],[2022.035,1.43],[2022.035,1.26],
  [2022.116,1.95],[2022.12,1.79],[2022.13,1.72],[2022.137,1.67],[2022.13,1.60],[2022.11,1.45],[2022.116,1.42],[2022.104,0.53],[2022.11,0.51],
  [2022.188,0.94],[2022.19,0.89],[2022.206,0.76],[2022.214,0.76],[2022.214,0.45],[2022.22,0.40],[2022.198,0.14]
];

// night-time AOD440 observations [decimal year, AOD]
var nightAod = [
  [2016.78,0.140],[2016.78,0.067],[2016.79,0.126],[2016.80,0.046],[2016.82,0.096],[2016.83,0.076],[2016.85,0.084],[2016.86,0.059],[2016.87,0.042],[2016.87,0.101],
  [2016.94,0.299],[2016.94,0.278],[2016.95,0.177],[2016.95,0.152],[2016.95,0.084],[2016.96,0.143],
  [2017.03,0.101],[2017.03,0.079],[2017.04,0.059],[2017.05,0.042],[2017.05,0.110],[2017.02,0.076],
  [2017.12,0.130],[2017.12,0.084],[2017.13,0.059],[2017.13,0.160],[2017.14,0.147],[2017.11,0.046],
  [2017.18,0.076],[2017.19,0.084],[2017.20,0.101],[2017.20,0.202],[2017.21,0.067],[2017.22,0.143],
  [2017.54,0.295],[2017.54,0.261],[2017.55,0.135],[2017.54,0.076],[2017.58,0.346],[2017.59,0.152],[2017.60,0.084],[2017.61,0.076],[2017.61,0.059],[2017.62,0.067],[2017.63,0.126],
  [2017.68,0.388],[2017.69,0.261],[2017.69,0.110],[2017.70,0.067],[2017.69,0.050],[2017.70,0.084],
  [2017.74,0.346],[2017.75,0.211],[2017.76,0.160],[2017.76,0.076],[2017.77,0.059],[2017.77,0.046],[2017.78,0.295],[2017.79,0.278],
  [2017.84,0.228],[2017.84,0.126],[2017.85,0.101],[2017.86,0.079],[2017.86,0.067],[2017.87,0.050],
  [2017.91,0.140],[2017.92,0.084],[2017.93,0.059],[2017.93,0.042],[2017.99,0.101],[2018.00,0.067],[2018.01,0.056],[2018.00,0.126],
  [2018.07,0.515],[2018.08,0.110],[2018.09,0.056],[2018.10,0.046],[2018.10,0.067],
  [2018.16,0.140],[2018.17,0.084],[2018.18,0.059],[2018.19,0.039],[2018.20,0.042],[2018.23,0.042],[2018.24,0.059],[2018.25,0.034],[2018.25,0.152],[2018.26,0.093],
  [2018.31,0.332],[2018.31,0.304],[2018.32,0.261],[2018.33,0.143],[2018.33,0.076],[2018.34,0.059],[2018.34,0.110],
  [2018.39,0.261],[2018.40,0.194],[2018.41,0.118],[2018.41,0.076],[2018.42,0.056],[2018.43,0.143],
  [2018.47,0.278],[2018.48,0.245],[2018.48,0.228],[2018.49,0.202],[2018.50,0.160],[2018.50,0.126],[2018.51,0.101],[2018.52,0.076],
  [2018.55,0.186],[2018.56,0.143],[2018.57,0.110],[2018.57,0.076],[2018.58,0.056],[2018.59,0.126],[2018.59,0.405],[2018.60,0.312],
  [2018.62,0.456],[2018.64,0.413],[2018.64,0.388],[2018.65,0.363],[2018.65,0.329],[2018.66,0.169],[2018.66,0.126],[2018.67,0.076],[2018.68,0.056],
  [2018.71,0.304],[2018.73,0.245],[2018.74,0.186],[2018.74,0.143],[2018.75,0.110],[2018.75,0.076],[2018.76,0.056],
  [2018.82,1.367],[2018.83,0.093],[2018.84,0.067],[2018.84,0.076],
  [2018.89,0.067],[2018.90,0.059],[2018.91,0.067],[2018.91,0.093],[2018.92,0.056],
  [2018.98,0.190],[2018.99,0.067],[2018.99,0.056],
  [2019.05,0.245],[2019.05,0.126],[2019.06,0.084],[2019.07,0.067],[2019.07,0.050],[2019.08,0.110],
  [2019.13,0.245],[2019.14,0.202],[2019.14,0.169],[2019.15,0.152],[2019.15,0.110],[2019.16,0.067],
  [2019.20,0.093],[2019.21,0.067],[2019.21,0.046],[2019.22,0.034],[2019.23,0.084],[2019.24,0.110],
  [2019.30,0.143],[2019.31,0.118],[2019.31,0.084],[2019.33,0.067],[2019.35,0.076],[2019.35,0.093],[2019.36,0.067],[2019.36,0.056],[2019.39,0.295],[2019.39,0.110],
  [2019.45,0.152],[2019.46,0.067],[2019.46,0.050],[2019.47,0.067],
  [2019.52,0.397],[2019.53,0.380],[2019.53,0.143],[2019.54,0.126],[2019.56,0.346],[2019.53,0.059],[2019.58,0.135],
  [2019.597,0.084],[2019.604,0.118],[2019.615,0.076],[2019.622,0.110],[2019.63,0.152],[2019.64,0.093],[2019.673,0.160],[2019.69,0.118],[2019.70,0.177],[2019.707,0.211],[2019.712,0.245],[2019.717,0.261],[2019.717,0.393],[2019.725,0.316],[2019.75,0.110],[2019.758,0.084],[2019.763,0.067],[2019.768,0.211],[2019.776,0.177],[2019.784,0.126],
  [2019.835,0.110],[2019.84,0.084],[2019.845,0.067],[2019.853,0.056],[2019.86,0.101],[2019.865,0.118],
  [2019.93,0.093],[2019.937,0.067],[2019.942,0.056],[2019.955,0.084],[2019.963,0.110],
  [2020.006,0.253],[2020.014,0.067],[2020.024,0.056],[2020.032,0.084],
  [2020.09,0.245],[2020.095,0.084],[2020.108,0.067],[2020.116,0.056],
  [2020.167,0.118],[2020.177,0.093],[2020.185,0.067],[2020.193,0.050],[2020.198,0.253],[2020.198,0.140],
  [2020.254,0.110],[2020.262,0.084],[2020.27,0.067],[2020.275,0.056],
  [2020.33,0.211],[2020.338,0.169],[2020.346,0.076],[2020.351,0.056],[2020.356,0.143],
  [2020.415,0.261],[2020.423,0.236],[2020.428,0.110],[2020.433,0.084],[2020.44,0.067],
  [2020.485,0.197],[2020.492,0.135],[2020.50,0.110],[2020.505,0.084],[2020.518,0.287],[2020.525,0.228],[2020.53,0.076],[2020.536,0.056],
  [2020.569,0.261],[2020.577,0.245],[2020.582,0.211],[2020.587,0.181],[2020.594,0.160],[2020.602,0.261],[2020.607,0.067],[2020.612,0.056],
  [2020.671,0.194],[2020.679,0.160],[2020.684,0.110],[2020.689,0.076],[2020.697,0.056],[2020.704,0.067],
  [2020.735,0.245],[2020.74,0.211],[2020.748,0.152],[2020.755,0.130],[2020.76,0.110],[2020.766,0.067],
  [2020.807,0.211],[2020.812,0.143],[2020.817,0.110],[2020.825,0.067],[2020.832,0.056],
  [2020.89,0.169],[2020.894,0.135],[2020.901,0.110],[2020.909,0.076],[2020.914,0.056],
  [2020.978,0.413],[2020.986,0.110],[2020.996,0.067],[2021.004,0.050],[2021.012,0.042],
  [2021.068,0.143],[2021.073,0.110],[2021.08,0.084],[2021.088,0.067],[2021.093,0.042],
  [2021.149,0.599],[2021.157,0.489],[2021.165,0.346],[2021.17,0.295],[2021.157,0.258],[2021.165,0.236],[2021.175,0.126],[2021.183,0.084],
  [2021.221,0.261],[2021.226,0.177],[2021.234,0.152],[2021.242,0.076],[2021.247,0.346],[2021.252,0.346],[2021.26,0.253],
  [2021.303,0.245],[2021.31,0.177],[2021.318,0.118],[2021.323,0.084],[2021.328,0.056],[2021.336,0.278],
  [2021.388,0.194],[2021.395,0.135],[2021.40,0.110],[2021.405,0.093],[2021.413,0.354],[2021.413,0.261],[2021.42,0.224],[2021.426,0.177],
  [2021.472,0.135],[2021.477,0.110],[2021.482,0.076],[2021.49,0.056],[2021.497,0.093],
  [2021.54,0.312],[2021.548,0.287],[2021.554,0.245],[2021.56,0.194],[2021.567,0.164],[2021.574,0.143],[2021.58,0.110],
  [2021.63,0.413],[2021.636,0.380],[2021.643,0.346],[2021.651,0.312],[2021.656,0.261],[2021.661,0.211],[2021.661,0.160],
  [2021.72,0.143],[2021.728,0.110],[2021.733,0.084],[2021.738,0.067],[2021.746,0.056],
  [2021.784,0.321],[2021.797,0.110],[2021.805,0.084],[2021.81,0.067],[2021.815,0.056],
  [2021.881,0.160],[2021.886,0.110],[2021.891,0.076],[2021.899,0.056],
  [2021.963,0.197],[2021.968,0.152],[2021.976,0.135],[2021.984,0.110],[2021.99,0.076],[2022.001,0.056],
  [2022.027,0.084],[2022.035,0.067],[2022.045,0.046],[2022.052,0.110],[2022.06,0.076],
  [2022.104,0.388],[2022.112,0.405],[2022.118,0.245],[2022.122,0.143],[2022.13,0.084],[2022.137,0.067],[2022.142,0.056],
  [2022.188,0.110],[2022.193,0.076],[2022.198,0.160],[2022.206,0.211],[2022.214,0.186]
];

// axes
var xDomain = [2016.675, 2022.322];
var janYears = [2017, 2018, 2019, 2020, 2021, 2022];
var janLabels = ['Jan-2017', 'Jan-2018', 'Jan-2019', 'Jan-2020', 'Jan-2021', 'Jan-2022'];
var aodTicksTop = [0, 0.25, 0.5, 0.75, 1, 1.25, 1.5];
var aodTicksBottom = [0, 0.25, 0.5, 0.75, 1, 1.25];
var aodLabels = [0, 0.5, 1, 1.5];
var aeTicksTop = [0, 0.25, 0.5, 0.75, 1, 1.25, 1.5, 1.75, 2];
var aeTicksBottom = [0, 0.25, 0.5, 0.75, 1, 1.25, 1.5, 1.75];
var aeLabels = [0, 0.5, 1, 1.5, 2];

var boxColor = '#666';
var textColor = '#222';
var regColor = '#a35fe6';

var plotLeft = 61, plotRight = 797;

var svg = d3.select('#chart').attr('width', width).attr('height', height);

var x = d3.scaleLinear().domain(xDomain).range([plotLeft, plotRight]);

var monthTicks = d3.range(2016 * 12 + 8, 2022 * 12 + 5).map(function(m) { return m / 12; })
  .filter(function(t) { return t >= xDomain[0] && t <= xDomain[1]; });
var halfYearTicks = monthTicks.filter(function(t) { return Math.abs(t * 2 - Math.round(t * 2)) < 1e-6; });

var crossPath = 'M-2.3,-2.3L2.3,2.3M-2.3,2.3L2.3,-2.3';

var panels = [
  { top: 36, bottom: 329, ae: dayAe, aod: dayAod, aeMean: dayAeMean, aodMean: dayAodMean,
    aeReg: dayAeReg, aodReg: dayAodReg, color: '#ff0000', aodTicks: aodTicksTop, aeTicks: aeTicksTop, xLabels: false },
  { top: 329, bottom: 644, ae: nightAe, aod: nightAod, aeMean: nightAeMean, aodMean: nightAodMean,
    aeReg: nightAeReg, aodReg: nightAodReg, color: '#0000ff', aodTicks: aodTicksBottom, aeTicks: aeTicksBottom, xLabels: true }
];

panels.forEach(drawPanel);
drawLegend();

function drawPanel(p, idx) {
  var yAod = d3.scaleLinear().domain([0, 1.6]).range([p.bottom, p.top]);
  var yAe = d3.scaleLinear().domain([0, 2.1]).range([p.bottom, p.top]);

  var clipId = 'clip' + idx;
  svg.append('clipPath').attr('id', clipId)
    .append('rect').attr('x', plotLeft).attr('y', p.top)
    .attr('width', plotRight - plotLeft).attr('height', p.bottom - p.top);

  var g = svg.append('g').attr('clip-path', 'url(#' + clipId + ')');

  // AE points
  g.append('g').selectAll('circle')
    .data(p.ae)
    .enter()
    .append('circle')
    .attr('cx', function(d) { return x(d[0]); })
    .attr('cy', function(d) { return yAe(d[1]); })
    .attr('r', 1.5)
    .attr('fill', '#000');

  // AOD crosses
  g.append('g').selectAll('path')
    .data(p.aod)
    .enter()
    .append('path')
    .attr('d', crossPath)
    .attr('transform', function(d) { return 'translate(' + x(d[0]) + ',' + yAod(d[1]) + ')'; })
    .attr('fill', 'none')
    .attr('stroke', p.color)
    .attr('stroke-opacity', 0.45)
    .attr('stroke-width', 0.9);

  // linear regressions across the full plot
  var regLine = d3.line()
    .x(function(d, i) { return x(xDomain[i]); })
    .y(function(d) { return d.scale(d.v); });
  [[p.aeReg, yAe], [p.aodReg, yAod]].forEach(function(r) {
    g.append('path')
      .datum(r[0].map(function(v) { return { v: v, scale: r[1] }; }))
      .attr('d', regLine)
      .attr('fill', 'none')
      .attr('stroke', regColor)
      .attr('stroke-width', 1.3);
  });

  // monthly means
  var aeLine = d3.line().x(function(d, i) { return x(monthT[i]); }).y(function(d) { return yAe(d); });
  var aodLine = d3.line().x(function(d, i) { return x(monthT[i]); }).y(function(d) { return yAod(d); });

  g.append('path').datum(p.aeMean).attr('d', aeLine)
    .attr('fill', 'none').attr('stroke', '#000').attr('stroke-width', 2).attr('stroke-linejoin', 'round');
  g.append('path').datum(p.aodMean).attr('d', aodLine)
    .attr('fill', 'none').attr('stroke', p.color).attr('stroke-width', 2).attr('stroke-linejoin', 'round');

  // box
  svg.append('rect')
    .attr('x', plotLeft).attr('y', p.top)
    .attr('width', plotRight - plotLeft).attr('height', p.bottom - p.top)
    .attr('fill', 'none').attr('stroke', boxColor).attr('stroke-width', 1);

  // left axis (AOD)
  var gl = svg.append('g').attr('transform', 'translate(' + plotLeft + ',0)');
  gl.call(d3.axisLeft(yAod).tickValues(p.aodTicks).tickSize(4)
    .tickFormat(function(d) { return aodLabels.indexOf(d) >= 0 ? d.toFixed(1) : ''; }));
  styleAxis(gl);
  gl.selectAll('text')
    .attr('transform', 'rotate(-90)').attr('x', 0).attr('y', -9).attr('dy', null)
    .attr('text-anchor', 'middle');

  // right axis (AE)
  var gr = svg.append('g').attr('transform', 'translate(' + plotRight + ',0)');
  gr.call(d3.axisRight(yAe).tickValues(p.aeTicks).tickSize(-4)
    .tickFormat(function(d) { return aeLabels.indexOf(d) >= 0 ? d.toFixed(1) : ''; }));
  styleAxis(gr);
  gr.selectAll('text')
    .attr('transform', 'rotate(-90)').attr('x', 0).attr('y', 20).attr('dy', null)
    .attr('text-anchor', 'middle');

  // bottom axis: monthly minor ticks, half-year major ticks
  var gbMinor = svg.append('g').attr('transform', 'translate(0,' + p.bottom + ')');
  gbMinor.call(d3.axisBottom(x).tickValues(monthTicks).tickSize(3).tickFormat(''));
  styleAxis(gbMinor);
  var gbMajor = svg.append('g').attr('transform', 'translate(0,' + p.bottom + ')');
  gbMajor.call(d3.axisBottom(x).tickValues(halfYearTicks).tickSize(6)
    .tickFormat(function(d) {
      var k = janYears.indexOf(Math.round(d * 12) / 12);
      return (p.xLabels && k >= 0) ? janLabels[k] : '';
    }));
  styleAxis(gbMajor);
  gbMajor.selectAll('text').attr('y', 17).attr('dy', null);

  // axis titles
  var cy = (p.top + p.bottom) / 2;
  var tl = svg.append('text')
    .attr('transform', 'translate(27,' + cy + ') rotate(-90)')
    .attr('text-anchor', 'middle')
    .attr('font-size', 13).attr('fill', textColor);
  tl.append('tspan').text('AOD');
  tl.append('tspan').attr('font-size', 9.5).attr('dy', 4).text('440');

  svg.append('text')
    .attr('transform', 'translate(836,' + cy + ') rotate(-90)')
    .attr('text-anchor', 'middle')
    .attr('font-size', 13).attr('fill', textColor)
    .text('AE');
}

function styleAxis(g) {
  g.attr('font-family', null).attr('font-size', null);
  g.select('.domain').remove();
  g.selectAll('line').attr('stroke', boxColor);
  g.selectAll('text').attr('fill', textColor).attr('font-size', 12.5);
}

function drawLegend() {
  var ly = 19;
  var lg = svg.append('g').attr('font-size', 11.5).attr('fill', textColor);

  lg.append('path').attr('d', crossPath).attr('transform', 'translate(134,' + ly + ')')
    .attr('stroke', '#ff3030').attr('stroke-width', 1).attr('fill', 'none');
  lg.append('text').attr('x', 154).attr('y', ly + 4).text('Daytime AOD');

  lg.append('path').attr('d', crossPath).attr('transform', 'translate(254,' + ly + ')')
    .attr('stroke', '#4040ff').attr('stroke-width', 1).attr('fill', 'none');
  lg.append('text').attr('x', 274).attr('y', ly + 4).text('Night-time AOD');

  lg.append('circle').attr('cx', 375).attr('cy', ly).attr('r', 1.8).attr('fill', '#000');
  lg.append('text').attr('x', 395).attr('y', ly + 4).text('AE(440-870nm)');

  lg.append('line').attr('x1', 487).attr('x2', 504).attr('y1', ly).attr('y2', ly)
    .attr('stroke', '#333').attr('stroke-width', 1);
  lg.append('text').attr('x', 517).attr('y', ly + 4).text('Monthly mean');

  lg.append('line').attr('x1', 606).attr('x2', 623).attr('y1', ly).attr('y2', ly)
    .attr('stroke', regColor).attr('stroke-width', 1);
  lg.append('text').attr('x', 631).attr('y', ly + 4).text('Linear regression');
}
</script>
</body>
</html>
